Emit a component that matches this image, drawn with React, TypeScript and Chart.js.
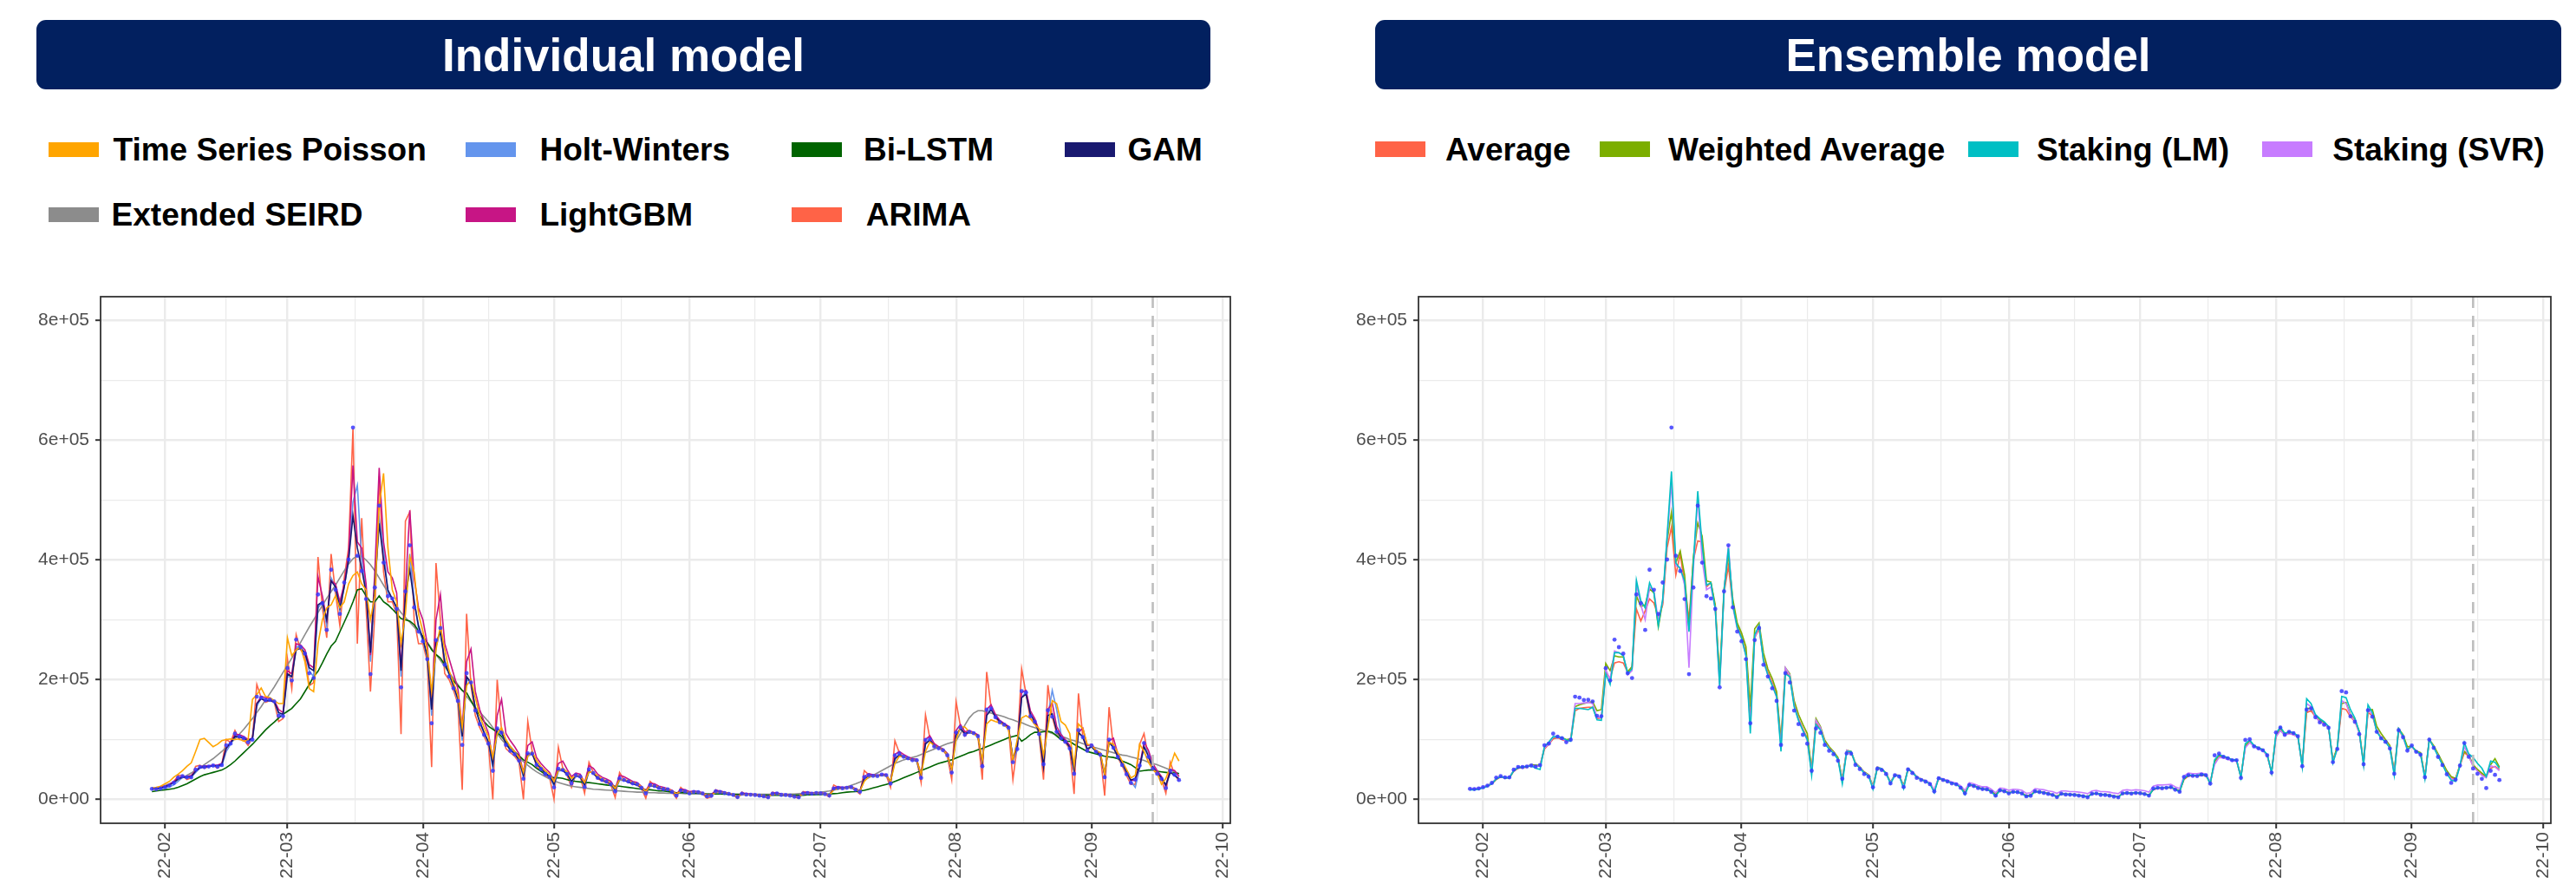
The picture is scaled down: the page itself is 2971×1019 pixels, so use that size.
import React, { useEffect, useRef } from "react";
import { Chart, registerables } from "chart.js";

Chart.register(...registerables);

const FONT = "'Liberation Sans', Arial, Helvetica, sans-serif";

// ------------------------------------------------------------------ data
// daily series, first value on FIRST_DATE, one value per day, in thousands of cases
const FIRST_DATE = "2022-01-29";
const MONTH_TICK_DATES = ["2022-02-01", "2022-03-01", "2022-04-01", "2022-05-01", "2022-06-01", "2022-07-01", "2022-08-01", "2022-09-01", "2022-10-01"];
const MONTH_TICK_LABELS = ["22-02", "22-03", "22-04", "22-05", "22-06", "22-07", "22-08", "22-09", "22-10"];
const Y_MAJOR_K = [0, 200, 400, 600, 800];
const Y_MAJOR_LABELS = ["0e+00", "2e+05", "4e+05", "6e+05", "8e+05"];
const Y_MINOR_K = [100, 300, 500, 700];
const Y_LIMITS_K = [0, 800];
const CUTOFF_DATE = "2022-09-15";

const OBSERVED_K = [
  17.5, 17.1, 18.3, 20.3, 22.9, 27.4, 36.4,
  38.7, 36.8, 36.7, 49.6, 54.1, 53.9, 54.9,
  56.4, 54.6, 57.2, 90.4, 93.1, 109.8, 104.8,
  102.2, 95.4, 99.6, 171.5, 170.0, 165.9, 166.2,
  163.6, 139.6, 139.0, 219.2, 198.8, 266.9, 254.3,
  243.6, 210.7, 202.7, 342.4, 327.5, 283.0, 383.7,
  350.2, 309.8, 362.3, 400.7, 621.3, 407.0, 381.5,
  334.7, 209.2, 354.0, 490.9, 395.6, 339.5, 335.6,
  318.1, 187.2, 347.6, 424.6, 320.7, 280.3, 264.2,
  234.3, 127.2, 266.1, 286.3, 224.8, 205.3, 185.6,
  164.5, 90.9, 210.8, 195.4, 148.4, 125.8, 107.9,
  93.0, 47.7, 118.5, 111.3, 90.9, 81.1, 75.4,
  64.7, 34.4, 76.8, 76.5, 57.5, 50.6, 42.3,
  37.8, 20.1, 51.1, 49.1, 42.3, 26.7, 40.1,
  38.0, 20.6, 49.9, 43.9, 35.9, 32.4, 29.6,
  25.4, 13.3, 35.1, 32.4, 29.9, 26.6, 25.1,
  19.3, 10.0, 24.0, 22.2, 18.8, 17.2, 16.6,
  12.5, 6.1, 15.0, 13.4, 9.9, 12.5, 12.0,
  9.8, 5.0, 6.0, 13.4, 12.2, 10.6, 9.0,
  7.4, 3.8, 9.4, 8.0, 7.7, 7.2, 6.1,
  5.0, 3.5, 9.3, 9.9, 7.5, 7.2, 6.2,
  4.4, 3.4, 9.9, 10.5, 9.6, 10.7, 10.1,
  8.8, 6.3, 18.1, 19.4, 18.5, 19.3, 20.4,
  16.0, 12.7, 37.4, 40.3, 39.2, 38.9, 41.3,
  40.3, 26.3, 73.6, 76.4, 71.2, 68.6, 65.4,
  65.4, 35.9, 99.3, 100.3, 88.4, 85.3, 82.0,
  73.6, 44.7, 111.8, 119.9, 107.9, 112.9, 110.7,
  105.5, 55.3, 149.9, 151.8, 137.2, 128.7, 124.6,
  119.6, 62.1, 84.1, 180.8, 178.6, 138.8, 129.6,
  109.0, 58.7, 149.0, 138.0, 112.8, 102.0, 96.0,
  85.0, 42.8, 115.6, 103.9, 81.4, 90.0, 79.5,
  74.6, 37.0, 99.8, 86.0, 70.9, 57.3, 41.9,
  27.5, 33.0, 56.4, 94.0, 71.0, 51.5, 42.8,
  34.2, 18.8, 47.7, 40.9, 32.2,
];

const TS_POISSON_K = [
  19, 20, 22, 26, 30, 37, 42,
  48, 55, 61, 80, 100, 102, 95,
  88, 92, 98, 100, 101, 100, 101,
  97, 99, 167, 175, 186, 172, 170,
  165, 160, 160, 270, 240, 250, 255,
  230, 185, 180, 260, 300, 320, 325,
  340, 320, 330, 360, 374, 380, 360,
  350, 300, 340, 490, 545, 420, 350,
  330, 260, 310, 405, 380, 310, 280,
  250, 180, 250, 290, 250, 215, 195,
  175, 120, 190, 200, 170, 140, 120,
  105, 70, 110, 120, 100, 88, 80,
  70, 45, 72, 80, 65, 55, 48,
  42, 30, 48, 52, 46, 35, 40,
  39, 28, 46, 45, 39, 34, 31,
  27, 18, 33, 33, 31, 28, 26,
  21, 13, 23, 23, 20, 18, 17,
  14, 9, 14, 14, 11, 12, 12,
  10, 7, 7, 12, 12, 11, 10,
  8, 5, 8, 8, 8, 7, 7,
  6, 4.5, 8, 9, 8, 7, 6.5,
  5, 4.5, 9, 10, 10, 10.5, 10,
  9, 7, 16, 18, 18, 19, 20,
  17, 14, 30, 38, 39, 39, 40,
  40, 30, 60, 72, 71, 69, 66,
  65, 42, 80, 96, 90, 86, 83,
  75, 50, 100, 121, 121, 113, 110,
  105, 65, 126, 133, 130, 128, 124,
  118, 65, 100, 136, 140, 135, 125,
  118, 73, 120, 165, 160, 130, 124,
  110, 56, 126, 118, 92, 90, 82,
  78, 42, 95, 92, 78, 64, 50,
  36, 40, 92, 80, 62, 50, 44,
  25, 35, 55, 77, 64,
];

const HOLT_WINTERS_K = [
  17, 18, 18, 19, 21, 24, 30,
  37, 38, 37, 45, 52, 55, 55,
  56, 55, 56, 80, 92, 105, 106,
  102, 97, 99, 155, 170, 166, 165,
  163, 142, 140, 205, 205, 255, 255,
  245, 215, 205, 320, 330, 290, 370,
  355, 315, 355, 400, 497, 525, 400,
  350, 230, 345, 470, 420, 345, 335,
  320, 205, 335, 410, 335, 285, 265,
  238, 140, 255, 280, 232, 208, 188,
  166, 98, 200, 196, 152, 128, 110,
  94, 52, 112, 110, 93, 82, 76,
  65, 37, 72, 76, 60, 51, 43,
  38, 22, 47, 49, 43, 29, 38,
  38, 22, 46, 44, 37, 32, 30,
  26, 14, 32, 32, 30, 27, 25,
  20, 11, 22, 22, 19, 17, 17,
  13, 7, 14, 13, 10, 12, 12,
  10, 5, 6, 12, 12, 11, 9,
  7, 4, 8, 8, 8, 7, 6,
  5, 3.5, 8.5, 9.5, 8, 7, 6,
  4.5, 3.5, 9, 10, 9.6, 10.5, 10,
  9, 6.5, 16, 19, 18.5, 19, 20,
  16, 13, 33, 39, 39, 39, 41,
  40, 28, 66, 75, 72, 69, 66,
  65, 38, 92, 100, 90, 86, 83,
  74, 47, 106, 119, 110, 112, 111,
  106, 58, 142, 152, 140, 130, 125,
  120, 64, 82, 170, 180, 145, 132,
  110, 60, 140, 182, 150, 110, 97,
  86, 45, 110, 106, 85, 88, 80,
  75, 39, 95, 88, 72, 58, 44,
  30, 20, 52, 88, 78, 56, 44,
  35, 22, 45, 42, 34,
];

const BI_LSTM_K = [
  13, 14, 15, 16, 17, 18, 20,
  23, 26, 30, 34, 38, 41, 43,
  45, 47, 49, 53, 58, 64, 71,
  78, 85, 92, 100, 108, 116, 123,
  129, 136, 142, 147, 152, 160, 168,
  180, 192, 205, 214, 228, 243, 256,
  264, 280, 296, 312, 330, 350, 352,
  340, 330, 330, 340, 330, 325, 318,
  310, 302, 300, 298, 292, 282, 272,
  262, 250, 242, 236, 225, 210, 198,
  190, 182, 178, 165, 152, 140, 130,
  122, 117, 112, 105, 96, 88, 80,
  73, 66, 62, 58, 52, 47, 42,
  38, 36, 36, 35, 33, 31, 30,
  29, 28, 28, 27, 26, 25, 24,
  23, 22, 22, 21, 20, 19, 18,
  17, 16, 16, 15, 14, 14, 13,
  12, 11, 11, 11, 10, 10, 10,
  9.5, 9, 9, 9, 9, 8.5, 8.5,
  8, 8, 8, 7.5, 7.5, 7.5, 7,
  7, 7, 7, 7, 7, 7, 7,
  7, 7, 7, 7.5, 7.5, 8, 8,
  8.5, 9, 9.5, 10, 11, 12, 12.5,
  13, 14, 15, 17, 19, 21, 23,
  25, 27, 30, 33, 36, 39, 42,
  45, 48, 51, 54, 57, 60, 62,
  64, 66, 69, 72, 75, 78, 80,
  83, 85, 88, 91, 94, 97, 100,
  103, 105, 107, 97, 102, 108, 112,
  112, 113, 114, 112, 106, 100, 97,
  97, 92, 88, 84, 80, 78, 76,
  74, 72, 71, 70, 68, 64, 61,
  58, 53, 47, 48, 49, 49, 47,
  46, 45, 44, 44, 43,
];

const GAM_K = [
  18, 18, 19, 21, 24, 28, 34,
  37, 37, 38, 47, 53, 54, 55,
  56, 56, 58, 86, 94, 105, 104,
  102, 98, 102, 160, 168, 165, 165,
  163, 145, 142, 210, 205, 250, 252,
  245, 220, 215, 325, 330, 300, 365,
  355, 320, 355, 400, 474, 420, 385,
  345, 245, 360, 461, 400, 350, 335,
  320, 215, 340, 384, 330, 290, 268,
  240, 150, 262, 280, 230, 210, 190,
  168, 105, 205, 195, 152, 130, 112,
  96, 58, 118, 112, 93, 83, 76,
  66, 40, 76, 76, 59, 52, 44,
  39, 25, 50, 48, 42, 30, 40,
  37, 24, 48, 43, 36, 32, 30,
  26, 16, 34, 32, 29, 26, 24,
  20, 12, 23, 22, 19, 17, 16,
  13, 8, 15, 13, 11, 12, 12,
  10, 6, 7, 13, 12, 11, 9,
  7, 5, 9, 8, 8, 7, 6,
  5, 4, 9, 9.5, 8, 7, 6,
  5, 4, 9.5, 10, 9.5, 10, 10,
  9, 7, 17, 19, 18.5, 19, 19.5,
  17, 14, 35, 39, 39, 39, 40,
  40, 30, 68, 74, 71, 68, 66,
  64, 40, 93, 99, 90, 86, 83,
  75, 50, 108, 118, 110, 112, 110,
  106, 62, 140, 150, 138, 130, 125,
  120, 68, 90, 170, 176, 142, 130,
  112, 54, 140, 143, 115, 104, 97,
  87, 48, 112, 104, 84, 88, 80,
  74, 42, 96, 86, 72, 60, 46,
  32, 35, 55, 88, 72, 54, 44,
  36, 24, 45, 40, 34,
];

const EXT_SEIRD_K = [
  17, 19, 21, 23, 26, 29, 32,
  36, 40, 44, 48, 53, 58, 63,
  68, 74, 80, 87, 94, 101, 109,
  117, 126, 135, 145, 155, 166, 177,
  188, 200, 212, 224, 236, 249, 262,
  275, 288, 300, 312, 324, 336, 347,
  358, 370, 382, 393, 402, 407, 406,
  400, 392, 382, 370, 358, 346, 334,
  322, 312, 304, 296, 288, 280, 271,
  262, 252, 242, 232, 222, 212, 202,
  192, 182, 172, 163, 154, 146, 138,
  130, 120, 110, 100, 92, 84, 77,
  70, 63, 57, 51, 46, 42, 38,
  34, 31, 28, 26, 24, 22, 21,
  20, 19, 18, 17, 16.5, 16, 15.5,
  15, 14.5, 14, 13.5, 13, 12.5, 12,
  12, 11.5, 11, 11, 10.5, 10.5, 10,
  10, 10, 10, 9.5, 9.5, 9.5, 9.5,
  9.5, 9, 9, 9, 9, 9, 9,
  9, 9, 9, 8.5, 8.5, 8.5, 8.5,
  8.5, 8.5, 8.5, 8.5, 8.5, 8.5, 9,
  9, 9.5, 10, 10.5, 11, 11.5, 12,
  13, 14, 15.5, 17, 19, 21, 23.5,
  26, 29, 32, 36, 40, 44, 48,
  52, 56, 60, 63, 66, 68, 70,
  72, 75, 78, 81, 84, 87, 90,
  93, 95, 98, 110, 124, 136, 144,
  148, 148, 146, 144, 142, 140, 138,
  135, 133, 130, 128, 125, 122, 120,
  117, 115, 113, 110, 108, 105, 103,
  100, 98, 96, 93, 91, 88, 86,
  84, 82, 80, 78, 76, 74, 73,
  71, 69, 67, 65, 62, 60, 58,
  55, 52, 49, 46, 43,
];

const LIGHTGBM_K = [
  18, 18, 20, 22, 25, 30, 36,
  38, 38, 40, 48, 54, 56, 56,
  57, 57, 60, 85, 95, 108, 108,
  105, 100, 102, 160, 172, 170, 168,
  165, 150, 145, 215, 210, 260, 258,
  250, 225, 220, 372, 340, 300, 365,
  360, 330, 360, 410, 558, 430, 420,
  360, 241, 380, 554, 430, 380, 370,
  345, 220, 350, 483, 370, 320, 300,
  260, 160, 300, 342, 260, 235, 210,
  185, 120, 230, 251, 180, 150, 130,
  110, 65, 140, 167, 110, 98, 88,
  76, 45, 90, 96, 70, 60, 52,
  45, 30, 60, 64, 50, 38, 44,
  42, 28, 56, 52, 42, 37, 34,
  30, 18, 40, 38, 34, 30, 28,
  22, 14, 27, 26, 22, 20, 18,
  15, 9, 17, 16, 13, 14, 13,
  11, 7, 8, 15, 14, 12, 10,
  8, 5, 10, 10, 9, 8, 7,
  6, 4, 10, 11, 9, 8, 7,
  5, 4, 11, 12, 11, 11, 11,
  10, 7, 19, 21, 20, 20, 21,
  18, 14, 38, 43, 41, 40, 42,
  42, 29, 75, 80, 75, 71, 68,
  67, 40, 100, 106, 93, 88, 84,
  77, 48, 115, 125, 113, 115, 112,
  108, 60, 150, 158, 142, 132, 127,
  122, 66, 88, 179, 182, 148, 135,
  115, 62, 150, 161, 122, 108, 100,
  90, 48, 112, 119, 90, 92, 82,
  77, 40, 98, 102, 76, 62, 46,
  32, 32, 56, 95, 82, 60, 48,
  38, 22, 50, 48, 38,
];

const ARIMA_K = [
  17, 17, 19, 21, 24, 29, 40,
  40, 33, 36, 55, 57, 52, 55,
  57, 52, 58, 100, 95, 115, 100,
  100, 90, 103, 192, 170, 162, 165,
  162, 130, 135, 235, 185, 275, 250,
  240, 190, 195, 405, 320, 270, 410,
  345, 290, 370, 420, 620, 260, 470,
  320, 180, 310, 540, 380, 330, 330,
  310, 109, 465, 480, 300, 260, 260,
  230, 54, 395, 300, 210, 200, 182,
  160, 16, 310, 190, 140, 120, 105,
  90, 0, 200, 115, 85, 78, 72,
  62, 0, 130, 80, 55, 48, 40,
  36, 0, 87, 52, 40, 20, 42,
  38, 10, 62, 45, 34, 31, 28,
  24, 3, 45, 33, 29, 26, 24,
  18, 2, 30, 23, 18, 16, 16,
  12, 2, 20, 13, 9, 13, 12,
  9, 2, 4, 16, 12, 10, 8.5,
  7, 2, 12, 8, 7.5, 7, 6,
  5, 2, 12, 10, 7, 7, 6,
  4, 2, 13, 11, 9.5, 11, 10,
  8.5, 4, 24, 20, 18, 19, 20.5,
  15, 9, 48, 41, 39, 39, 41.5,
  40, 20, 98, 78, 71, 68, 65,
  65, 28, 141, 102, 87, 85, 82,
  72, 33, 163, 122, 106, 113, 110,
  105, 33, 213, 154, 136, 128, 124,
  119, 33, 90, 218, 176, 135, 129,
  108, 33, 191, 138, 111, 101, 95,
  84, 9, 177, 105, 80, 90, 79,
  74, 6, 154, 87, 70, 56, 40,
  25, 25, 92, 110, 70, 50, 42,
  33, 10, 62, 41, 31,
];

const AVERAGE_K = [
  17, 17, 18, 20, 22, 26, 33,
  37, 36, 36, 47, 52, 53, 54,
  57, 56, 56, 84, 92, 101, 103,
  100, 97, 99, 148, 152, 153, 154,
  154, 135, 136, 212, 202, 228, 230,
  228, 212, 220, 318, 298, 315, 335,
  328, 305, 325, 420, 455, 375, 410,
  360, 300, 400, 432, 430, 355, 362,
  320, 200, 345, 390, 325, 290, 272,
  245, 140, 270, 285, 235, 212, 195,
  175, 95, 215, 205, 160, 135, 118,
  102, 48, 128, 118, 96, 86, 79,
  68, 33, 80, 78, 60, 53, 45,
  40, 21, 52, 50, 43, 28, 40,
  39, 22, 50, 45, 37, 33, 30,
  26, 14, 35, 32, 30, 27, 25,
  20, 11, 24, 22, 19, 17, 17,
  13, 7, 15, 13.5, 10.5, 12.5, 12,
  10, 5.5, 6.5, 13, 12, 11, 9.5,
  7.5, 4.5, 9, 8.5, 8, 7.5, 6.5,
  5.5, 4, 9, 9.5, 8, 7.5, 6.5,
  5, 4, 9.5, 10.5, 10, 10.5, 10,
  9, 6.5, 16, 18.5, 18.5, 19, 19.5,
  17, 13.5, 33, 39, 39, 39, 40,
  40, 27, 62, 72, 70, 68, 65,
  64, 37, 88, 96, 89, 85, 82,
  73, 45, 105, 116, 108, 110, 108,
  104, 57, 145, 148, 138, 130, 126,
  120, 64, 86, 152, 150, 138, 130,
  112, 60, 145, 140, 115, 104, 97,
  87, 45, 115, 105, 85, 88, 80,
  76, 38, 100, 88, 74, 60, 46,
  36, 34, 56, 78, 72, 56, 48,
  42, 38, 52, 55, 50,
];

const WEIGHTED_AVG_K = [
  17, 17, 18, 20, 23, 27, 34,
  38, 36, 37, 48, 53, 54, 55,
  58, 57, 57, 86, 93, 103, 104,
  103, 100, 101, 155, 158, 160, 162,
  163, 148, 150, 227, 215, 240, 238,
  238, 213, 222, 340, 322, 325, 352,
  345, 288, 330, 432, 480, 395, 415,
  375, 285, 405, 462, 440, 365, 363,
  325, 205, 352, 410, 335, 295, 278,
  255, 155, 285, 295, 245, 218, 202,
  180, 98, 220, 210, 165, 142, 125,
  110, 50, 135, 122, 99, 88, 80,
  70, 34, 82, 80, 61, 54, 46,
  41, 22, 54, 51, 44, 29, 41,
  40, 23, 51, 46, 38, 34, 31,
  27, 15, 36, 33, 31, 28, 26,
  21, 12, 25, 23, 20, 18, 17,
  14, 8, 16, 14, 11, 13, 12.5,
  10.5, 6, 7, 13.5, 12.5, 11.5, 10,
  8, 5, 9.5, 9, 8.5, 8, 7,
  6, 4.5, 9.5, 10, 8.5, 8, 7,
  5.5, 4.5, 10, 11, 10.5, 11, 10.5,
  9.5, 7, 17, 19, 19, 19.5, 20,
  17.5, 14, 34, 40, 39.5, 39.5, 41,
  40.5, 28, 64, 73, 71, 69, 66,
  65, 38, 90, 97, 90, 86, 83,
  74, 46, 107, 118, 110, 112, 110,
  105, 58, 152, 152, 140, 133, 128,
  121, 65, 88, 160, 162, 142, 133,
  114, 62, 149, 150, 122, 110, 100,
  90, 47, 118, 108, 88, 89, 81,
  78, 39, 100, 90, 76, 62, 48,
  38, 35, 58, 80, 74, 58, 50,
  44, 38, 58, 68, 54,
];

const STACKING_LM_K = [
  16, 16, 17, 19, 22, 26, 34,
  38, 36, 36, 48, 53, 54, 55,
  56, 52, 50, 88, 96, 105, 105,
  103, 99, 97, 152, 152, 151, 150,
  154, 133, 132, 210, 192, 245, 245,
  240, 210, 218, 366, 332, 320, 362,
  345, 290, 335, 440, 548, 395, 385,
  365, 280, 395, 515, 425, 358, 362,
  318, 190, 348, 420, 325, 288, 270,
  240, 110, 275, 290, 232, 208, 190,
  172, 80, 210, 205, 155, 132, 115,
  100, 40, 125, 116, 93, 84, 77,
  67, 26, 80, 80, 59, 52, 44,
  39, 17, 53, 51, 43, 26, 40,
  39, 18, 51, 45, 37, 33, 30,
  26, 11, 36, 33, 30, 27, 25,
  20, 8, 25, 23, 19, 17, 17,
  13, 5, 15.5, 13.5, 10, 12.5, 12,
  10, 4.5, 6, 13, 12, 11, 9,
  7.5, 3.5, 9, 8.5, 8, 7.5, 6.5,
  5.5, 3.5, 9, 10, 8, 7.5, 6.5,
  5, 3.5, 10, 10.5, 10, 11, 10,
  9, 6, 17, 19, 19, 19.5, 20.5,
  16.5, 12.5, 35, 41, 40, 40, 42,
  41, 26, 66, 75, 72, 70, 66,
  66, 36, 93, 99, 90, 86, 83,
  75, 44, 110, 121, 110, 113, 111,
  106, 54, 168, 160, 142, 135, 130,
  122, 61, 85, 172, 170, 150, 136,
  113, 57, 158, 145, 113, 102, 96,
  86, 40, 118, 106, 83, 89, 80,
  76, 34, 100, 87, 72, 58, 43,
  32, 30, 56, 95, 76, 70, 60,
  52, 38, 64, 62, 52,
];

const STACKING_SVR_K = [
  18, 18, 19, 21, 23, 27, 35,
  38, 37, 37, 49, 54, 54, 56,
  57, 55, 56, 86, 92, 104, 104,
  102, 97, 99, 160, 160, 161, 162,
  160, 138, 136, 217, 200, 248, 245,
  242, 208, 215, 360, 325, 300, 355,
  348, 298, 330, 435, 530, 390, 388,
  358, 220, 385, 505, 400, 350, 355,
  318, 188, 348, 425, 322, 285, 268,
  240, 122, 270, 290, 230, 208, 192,
  170, 88, 220, 208, 158, 133, 116,
  98, 45, 132, 120, 95, 85, 78,
  67, 31, 82, 79, 60, 53, 45,
  40, 20, 54, 51, 43, 28, 41,
  40, 21, 51, 46, 38, 34, 31,
  28, 16, 37, 34, 32, 29, 27,
  23, 15, 28, 26, 23, 21, 21,
  17, 11, 19, 18, 15, 17, 16.5,
  15, 10, 11, 18, 17, 16, 14,
  13, 10, 14, 14, 13, 13, 12,
  11, 9.5, 14, 15, 13, 13, 12,
  10.5, 9.5, 15, 16, 15, 16, 15.5,
  14.5, 12, 22, 24, 24, 24.5, 25,
  21, 18, 39, 44, 43, 43, 44,
  42, 30, 58, 70, 69, 67, 64,
  64, 38, 86, 95, 88, 84, 81,
  73, 45, 104, 115, 107, 110, 108,
  104, 56, 160, 155, 138, 130, 126,
  120, 63, 84, 165, 160, 140, 131,
  111, 59, 150, 142, 114, 103, 97,
  86, 44, 117, 104, 82, 88, 79,
  75, 37, 100, 87, 73, 58, 44,
  34, 32, 56, 88, 73, 55, 47,
  40, 36, 56, 54, 48,
];

const INDIVIDUAL_NAMES = ["Time Series Poisson", "Holt-Winters", "Bi-LSTM", "GAM", "Extended SEIRD", "LightGBM", "ARIMA"];
const INDIVIDUAL_SERIES = [TS_POISSON_K, HOLT_WINTERS_K, BI_LSTM_K, GAM_K, EXT_SEIRD_K, LIGHTGBM_K, ARIMA_K];
const ENSEMBLE_NAMES = ["Average", "Weighted Average", "Staking (LM)", "Staking (SVR)"];
const ENSEMBLE_SERIES = [AVERAGE_K, WEIGHTED_AVG_K, STACKING_LM_K, STACKING_SVR_K];

// ------------------------------------------------------------------ styles
const INDIVIDUAL_COLORS = ["#FFA500", "#6495ED", "#006400", "#191970", "#8C8C8C", "#C71585", "#FF6347"];
// drawing order (first = on top)
const INDIVIDUAL_DRAW_ORDER = [0, 3, 5, 1, 2, 4, 6];
const ENSEMBLE_COLORS = ["#FF6347", "#7CAE00", "#00BFC4", "#C77CFF"];
const ENSEMBLE_DRAW_ORDER = [2, 3, 1, 0];
const POINT_COLOR = "rgba(58,58,255,0.85)";
const BANNER_COLOR = "#02205F";
const GRID_COLOR = "#EBEBEB";
const AXIS_DARK = "#333333";
const TICK_TEXT = "#4D4D4D";

// ------------------------------------------------------------------ helpers
function dayOfYear(iso: string): number {
  const [y, m, d] = iso.split("-").map(Number);
  return (Date.UTC(y, m - 1, d) - Date.UTC(y, 0, 1)) / 86400000 + 1;
}
const FIRST_DAY = dayOfYear(FIRST_DATE);
const LAST_DAY = FIRST_DAY + OBSERVED_K.length - 1;
const SPAN = LAST_DAY - FIRST_DAY;
const X_MIN = FIRST_DAY - 0.05 * SPAN;
const X_MAX = LAST_DAY + 0.05 * SPAN;
const Y_RANGE = Y_LIMITS_K[1] - Y_LIMITS_K[0];
const Y_MIN = Y_LIMITS_K[0] - 0.05 * Y_RANGE;
const Y_MAX = Y_LIMITS_K[1] + 0.05 * Y_RANGE;

const MONTH_DAYS = MONTH_TICK_DATES.map(dayOfYear);
const MID_MONTH_DAYS = MONTH_DAYS.slice(1).map((d, i) => (d + MONTH_DAYS[i]) / 2);
const X_TICKS = [...MONTH_DAYS, ...MID_MONTH_DAYS].filter((d) => d >= X_MIN && d <= X_MAX).sort((a, b) => a - b);
const Y_TICKS = [...Y_MAJOR_K, ...Y_MINOR_K].sort((a, b) => a - b);
const CUTOFF_DAY = dayOfYear(CUTOFF_DATE);

const toPoints = (vals: number[]) => vals.map((v, i) => ({ x: FIRST_DAY + i, y: v }));

const panelPlugin = {
  id: "panelDecor",
  afterDatasetsDraw(chart: any) {
    const { ctx, chartArea: a, scales } = chart;
    const x = scales.x.getPixelForValue(CUTOFF_DAY);
    ctx.save();
    ctx.strokeStyle = "#BEBEBE";
    ctx.lineWidth = 2.6;
    ctx.setLineDash([13, 9]);
    ctx.beginPath();
    ctx.moveTo(x, a.top);
    ctx.lineTo(x, a.bottom);
    ctx.stroke();
    ctx.restore();
  },
  afterDraw(chart: any) {
    const { ctx, chartArea: a } = chart;
    ctx.save();
    ctx.strokeStyle = AXIS_DARK;
    ctx.lineWidth = 1.8;
    ctx.strokeRect(a.left, a.top, a.right - a.left, a.bottom - a.top);
    ctx.restore();
  },
};

function buildConfig(names: string[], series: number[][], colors: string[], order: number[], padRight: number): any {
  const isMajorX = (v: number) => MONTH_DAYS.includes(v);
  const isMajorY = (v: number) => Y_MAJOR_K.includes(v);
  const datasets: any[] = [
    {
      label: "Observed",
      data: toPoints(OBSERVED_K),
      showLine: false,
      pointRadius: 2.4,
      pointHoverRadius: 0,
      pointBorderWidth: 0,
      pointBackgroundColor: POINT_COLOR,
      borderColor: POINT_COLOR,
    },
    ...order.map((k) => ({
      label: names[k],
      data: toPoints(series[k]),
      borderColor: colors[k],
      backgroundColor: colors[k],
      borderWidth: 1.6,
      pointRadius: 0,
      tension: 0,
      fill: false,
    })),
  ];
  return {
    type: "line",
    data: { datasets },
    options: {
      responsive: false,
      animation: false,
      devicePixelRatio: 1,
      events: [],
      layout: { padding: { left: 0, top: 42, right: padRight, bottom: 0 } },
      plugins: { legend: { display: false }, tooltip: { enabled: false } },
      scales: {
        x: {
          type: "linear",
          min: X_MIN,
          max: X_MAX,
          bounds: "data",
          afterBuildTicks: (s: any) => {
            s.ticks = X_TICKS.map((v) => ({ value: v }));
          },
          afterFit: (s: any) => {
            s.height = 70;
          },
          ticks: {
            autoSkip: false,
            minRotation: 90,
            maxRotation: 90,
            padding: 4,
            color: TICK_TEXT,
            font: { family: FONT, size: 21 },
            callback: (v: number) => {
              const i = MONTH_DAYS.indexOf(v);
              return i >= 0 ? MONTH_TICK_LABELS[i] : "";
            },
          },
          grid: {
            color: GRID_COLOR,
            lineWidth: (c: any) => (c.tick && isMajorX(c.tick.value) ? 2.4 : 1.2),
            tickColor: (c: any) => (c.tick && isMajorX(c.tick.value) ? AXIS_DARK : "rgba(0,0,0,0)"),
            tickWidth: 2,
            tickLength: 6,
          },
          border: { display: false },
        },
        y: {
          type: "linear",
          min: Y_MIN,
          max: Y_MAX,
          bounds: "data",
          afterBuildTicks: (s: any) => {
            s.ticks = Y_TICKS.map((v) => ({ value: v }));
          },
          afterFit: (s: any) => {
            s.width = 116;
          },
          ticks: {
            autoSkip: false,
            padding: 7,
            color: TICK_TEXT,
            font: { family: FONT, size: 21 },
            callback: (v: number) => {
              const i = Y_MAJOR_K.indexOf(v);
              return i >= 0 ? Y_MAJOR_LABELS[i] : "";
            },
          },
          grid: {
            color: GRID_COLOR,
            lineWidth: (c: any) => (c.tick && isMajorY(c.tick.value) ? 2.4 : 1.2),
            tickColor: (c: any) => (c.tick && isMajorY(c.tick.value) ? AXIS_DARK : "rgba(0,0,0,0)"),
            tickWidth: 2,
            tickLength: 6,
          },
          border: { display: false },
        },
      },
    },
    plugins: [panelPlugin],
  };
}

function PanelChart(props: { left: number; width: number; padRight: number; names: string[]; series: number[][]; colors: string[]; order: number[] }) {
  const ref = useRef<HTMLCanvasElement>(null);
  useEffect(() => {
    if (!ref.current) return;
    const chart = new Chart(ref.current, buildConfig(props.names, props.series, props.colors, props.order, props.padRight));
    return () => chart.destroy();
  }, []);
  return (
    <canvas
      ref={ref}
      width={props.width}
      height={719}
      style={{ position: "absolute", left: props.left, top: 300, width: props.width, height: 719 }}
    />
  );
}

function Banner(props: { left: number; width: number; text: string }) {
  return (
    <div
      style={{
        position: "absolute",
        left: props.left,
        top: 23,
        width: props.width,
        height: 80,
        background: BANNER_COLOR,
        borderRadius: 11,
        display: "flex",
        alignItems: "center",
        justifyContent: "center",
        color: "#FFFFFF",
        fontWeight: "bold",
        fontSize: 53,
        fontFamily: FONT,
        lineHeight: 1,
      }}
    >
      {props.text}
    </div>
  );
}

// legend layout: key left x, text left x, row centre y
const LEFT_LEGEND_POS = [
  [55.5, 130.5, 172.7],
  [536.5, 622.5, 172.7],
  [912.7, 996.0, 172.7],
  [1228.0, 1300.5, 172.7],
  [55.5, 128.6, 247.5],
  [536.5, 622.4, 247.5],
  [912.7, 998.7, 247.5],
];
const RIGHT_LEGEND_POS = [
  [1586.3, 1667.0, 172.0],
  [1845.0, 1924.0, 172.0],
  [2269.5, 2349.0, 172.0],
  [2609.0, 2690.3, 172.0],
];

function LegendItem(props: { keyX: number; textX: number; cy: number; color: string; label: string }) {
  return (
    <>
      <div
        style={{
          position: "absolute",
          left: props.keyX,
          top: props.cy - 8.75,
          width: 58,
          height: 17.5,
          background: props.color,
        }}
      />
      <div
        style={{
          position: "absolute",
          left: props.textX,
          top: props.cy - 18.5,
          height: 37,
          lineHeight: "37px",
          fontSize: 37,
          fontWeight: "bold",
          fontFamily: FONT,
          color: "#000000",
          whiteSpace: "nowrap",
        }}
      >
        {props.label}
      </div>
    </>
  );
}

export default function App() {
  return (
    <div
      style={{
        position: "absolute",
        left: 0,
        top: 0,
        width: 2971,
        height: 1019,
        background: "#FFFFFF",
        overflow: "hidden",
        fontFamily: FONT,
      }}
    >
      <Banner left={42} width={1354} text="Individual model" />
      <Banner left={1586} width={1368} text="Ensemble model" />
      {INDIVIDUAL_NAMES.map((n, i) => (
        <LegendItem key={n} keyX={LEFT_LEGEND_POS[i][0]} textX={LEFT_LEGEND_POS[i][1]} cy={LEFT_LEGEND_POS[i][2]} color={INDIVIDUAL_COLORS[i]} label={n} />
      ))}
      {ENSEMBLE_NAMES.map((n, i) => (
        <LegendItem key={n} keyX={RIGHT_LEGEND_POS[i][0]} textX={RIGHT_LEGEND_POS[i][1]} cy={RIGHT_LEGEND_POS[i][2]} color={ENSEMBLE_COLORS[i]} label={n} />
      ))}
      <PanelChart left={0} width={1440} padRight={21} names={INDIVIDUAL_NAMES} series={INDIVIDUAL_SERIES} colors={INDIVIDUAL_COLORS} order={INDIVIDUAL_DRAW_ORDER} />
      <PanelChart left={1520} width={1451} padRight={29} names={ENSEMBLE_NAMES} series={ENSEMBLE_SERIES} colors={ENSEMBLE_COLORS} order={ENSEMBLE_DRAW_ORDER} />
    </div>
  );
}
